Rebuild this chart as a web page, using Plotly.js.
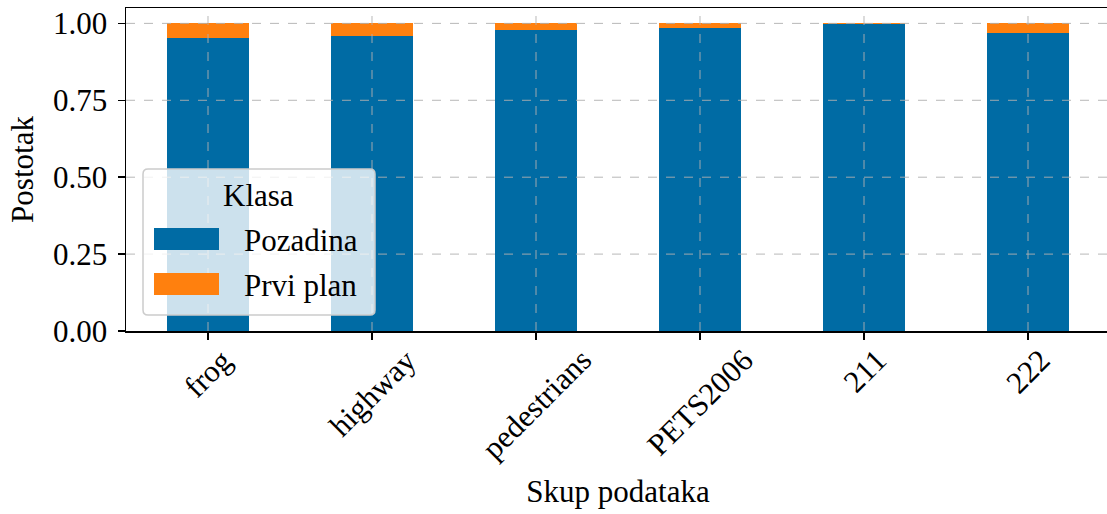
<!DOCTYPE html>
<html>
<head>
<meta charset="utf-8">
<script src="https://cdn.plot.ly/plotly-3.0.1.min.js"></script>
<style>
  html, body { margin: 0; padding: 0; overflow: hidden; background: #fff; }
  #chart { width: 1112px; height: 514px; }
</style>
</head>
<body>
<div id="chart"></div>
<script>
// Share of background vs foreground pixels per dataset
const datasets = ['frog', 'highway', 'pedestrians', 'PETS2006', '211', '222'];
const pozadina = [0.951, 0.960, 0.978, 0.986, 0.998, 0.968];
const prviPlan = [0.049, 0.040, 0.022, 0.014, 0.002, 0.032];
const yTicks = [0, 0.25, 0.5, 0.75, 1.0];
const yTickText = ['0.00', '0.25', '0.50', '0.75', '1.00'];
const legendTitle = 'Klasa';
const seriesNames = ['Pozadina', 'Prvi plan'];
const colors = ['#006BA4', '#FF800E'];

const FONT = '"Liberation Serif", "Times New Roman", "DejaVu Serif", serif';
const FS = 31;
const W = 1112, H = 514;
const M = { l: 126, r: 2, t: 8, b: 183 };
const PW = W - M.l - M.r, PH = H - M.t - M.b;
// pixel -> paper helpers for legend decoration
const px = x => (x - M.l) / PW;
const py = y => (H - M.b - y) / PH;

const traces = [
  { type: 'bar', name: seriesNames[0], x: datasets, y: pozadina,
    marker: { color: colors[0], line: { width: 0 } }, width: 0.5, hoverinfo: 'x+y' },
  { type: 'bar', name: seriesNames[1], x: datasets, y: prviPlan,
    marker: { color: colors[1], line: { width: 0 } }, width: 0.5, hoverinfo: 'x+y' }
];

const shapes = [];
const gridStyle = { color: 'rgba(176,176,176,0.9)', width: 1, dash: 'dash' };
// grid drawn over the bars
yTicks.slice(1).forEach(v => shapes.push({
  type: 'line', xref: 'paper', yref: 'y', x0: 0, x1: 1, y0: v, y1: v,
  line: gridStyle, layer: 'above'
}));
datasets.forEach((c, i) => shapes.push({
  type: 'line', xref: 'x', yref: 'paper', x0: i, x1: i, y0: 0, y1: 1,
  line: gridStyle, layer: 'above'
}));

// legend box with rounded corners
function roundRect(x0, y0, x1, y1, r) {
  const rx = r / PW, ry = r / PH;
  const a = px(x0), b = px(x1), top = py(y0), bot = py(y1);
  return `M ${a + rx},${top} L ${b - rx},${top} Q ${b},${top} ${b},${top - ry} ` +
         `L ${b},${bot + ry} Q ${b},${bot} ${b - rx},${bot} L ${a + rx},${bot} ` +
         `Q ${a},${bot} ${a},${bot + ry} L ${a},${top - ry} Q ${a},${top} ${a + rx},${top} Z`;
}
shapes.push({
  type: 'path', xref: 'paper', yref: 'paper', path: roundRect(143, 169, 375, 315, 5),
  fillcolor: 'rgba(255,255,255,0.8)', line: { color: '#cccccc', width: 1.5 }, layer: 'above'
});
[[228, 250], [273, 295]].forEach((yy, i) => shapes.push({
  type: 'rect', xref: 'paper', yref: 'paper',
  x0: px(154), x1: px(219), y0: py(yy[0]), y1: py(yy[1]),
  fillcolor: colors[i], line: { width: 0 }, layer: 'above'
}));

const annotations = [];
// rotated category labels, centred under each bar (x given as category index)
datasets.forEach((c, i) => annotations.push({
  x: i, xref: 'x', y: py(340), yref: 'paper', text: c, showarrow: false,
  textangle: -45, xanchor: 'center', yanchor: 'top',
  font: { family: FONT, size: FS, color: '#000' }
}));
annotations.push({
  x: px(258), y: py(195), xref: 'paper', yref: 'paper', text: legendTitle,
  showarrow: false, xanchor: 'center', yanchor: 'middle',
  font: { family: FONT, size: FS, color: '#000' }
});
seriesNames.forEach((n, i) => annotations.push({
  x: px(242), y: py(i === 0 ? 240 : 285), xref: 'paper', yref: 'paper', text: n,
  showarrow: false, xanchor: 'left', yanchor: 'middle',
  font: { family: FONT, size: FS, color: '#000' }
}));

const layout = {
  width: W, height: H,
  margin: M,
  paper_bgcolor: '#fff', plot_bgcolor: '#fff',
  barmode: 'stack',
  showlegend: false,
  font: { family: FONT, size: FS, color: '#000' },
  xaxis: {
    type: 'category', range: [-0.5, 5.5], fixedrange: true,
    showgrid: false, zeroline: false,
    showline: true, linecolor: '#000', linewidth: 1.5, mirror: true,
    ticks: 'outside', ticklen: 7, tickwidth: 1.5, tickcolor: '#000',
    showticklabels: false,
    title: { text: 'Skup podataka', standoff: 142, font: { family: FONT, size: FS } }
  },
  yaxis: {
    range: [0, 1.05], fixedrange: true,
    tickvals: yTicks, ticktext: yTickText,
    showgrid: false, zeroline: false,
    showline: true, linecolor: '#000', linewidth: 1.5, mirror: true,
    ticks: 'outside', ticklen: 7, tickwidth: 1.5, tickcolor: '#000',
    ticklabelstandoff: 4,
    tickfont: { family: FONT, size: FS },
    title: { text: 'Postotak', standoff: 10, font: { family: FONT, size: FS } }
  },
  shapes: shapes,
  annotations: annotations
};

Plotly.newPlot('chart', traces, layout, { displayModeBar: false, staticPlot: true });
</script>
</body>
</html>
